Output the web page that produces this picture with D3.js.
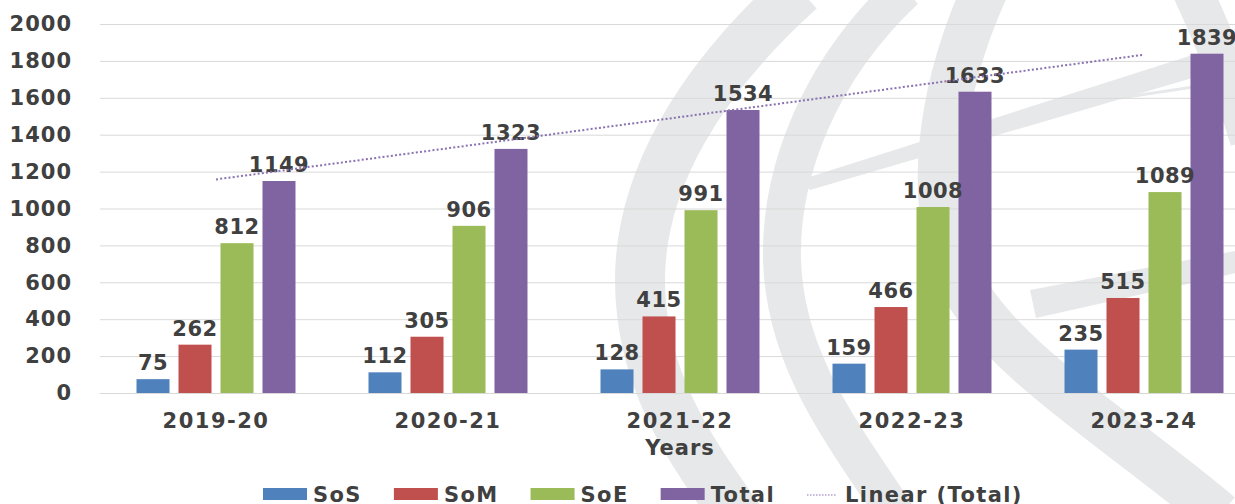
<!DOCTYPE html>
<html>
<head>
<meta charset="utf-8">
<script src="https://cdn.jsdelivr.net/npm/d3@7"></script>
<style>
  body { margin: 0; background: #fff; }
  svg { display: block; font-family: "DejaVu Sans", sans-serif; font-weight: bold; }
</style>
</head>
<body>
<svg id="chart"></svg>
<script>
const years = ["2019-20", "2020-21", "2021-22", "2022-23", "2023-24"];
const seriesNames = ["SoS", "SoM", "SoE", "Total"];
const sosValues = [75, 112, 128, 159, 235];
const somValues = [262, 305, 415, 466, 515];
const soeValues = [812, 906, 991, 1008, 1089];
const totalValues = [1149, 1323, 1534, 1633, 1839];
const yTicks = [0, 200, 400, 600, 800, 1000, 1200, 1400, 1600, 1800, 2000];
const seriesColors = ["#4F81BD", "#C0504D", "#9BBB59", "#8064A2"];

const width = 1235, height = 504;
const margin = { left: 100, right: -25, top: 24, bottom: 111 };
const textColor = "#404040";
const watermarkGrey = "#e7e8e9";
const trendColor = "#8a72b0";

const seriesValues = [sosValues, somValues, soeValues, totalValues];
const rows = years.map((y, i) => ({
    year: y,
    values: seriesNames.map((s, j) => ({ key: s, value: seriesValues[j][i], color: seriesColors[j] }))
}));

const svg = d3.select("#chart")
    .attr("width", width)
    .attr("height", height);

// faint logo watermark behind the plot
const wm = svg.append("g").attr("fill", "none").attr("stroke", watermarkGrey);
const watermarkStrokes = [
    { d: "M 800,-10 C 700,80 640,180 640,280 C 640,380 690,450 740,520", w: 50 },
    { d: "M 905,-10 C 820,70 780,170 782,260 C 785,360 840,430 900,520", w: 38 },
    { d: "M 985,-10 C 940,90 925,200 960,280 C 1000,360 1120,430 1220,515", w: 46 },
    { d: "M 1192,-10 C 1215,40 1235,90 1250,140", w: 40 },
    { d: "M 1120,98 L 1240,80", w: 3 }
];
watermarkStrokes.forEach(s => wm.append("path").attr("d", s.d).attr("stroke-width", s.w));
const watermarkWedges = [
    "M 800,180 L 1240,40 L 1240,64 L 810,190 Z",
    "M 1030,290 L 1240,250 L 1240,272 L 1036,318 Z"
];
watermarkWedges.forEach(d => wm.append("path").attr("d", d).attr("fill", watermarkGrey).attr("stroke", "none"));

const x0 = d3.scaleBand()
    .domain(years)
    .range([margin.left, width - margin.right]);

const x1 = d3.scaleBand()
    .domain(seriesNames)
    .range([0, 159])
    .paddingInner(0.214);

const groupOffset = (x0.bandwidth() - 159) / 2;

const y = d3.scaleLinear()
    .domain([0, 2000])
    .range([height - margin.bottom, margin.top]);

// gridlines
svg.append("g")
    .selectAll("line")
    .data(yTicks)
    .join("line")
    .attr("x1", margin.left)
    .attr("x2", width)
    .attr("y1", d => y(d) + 0.5)
    .attr("y2", d => y(d) + 0.5)
    .attr("stroke", "#d9d9d9")
    .attr("stroke-width", 1);

// y axis labels
const yAxis = svg.append("g")
    .attr("transform", `translate(72,0)`)
    .call(d3.axisLeft(y).tickValues(yTicks).tickFormat(d3.format("d")).tickSize(0).tickPadding(0));
yAxis.select(".domain").remove();
yAxis.selectAll("text")
    .attr("fill", textColor)
    .attr("font-size", 21)
    .attr("font-family", "DejaVu Sans, sans-serif")
    .attr("font-weight", "bold")
    .attr("letter-spacing", 1);

// bars
const groups = svg.append("g")
    .selectAll("g")
    .data(rows)
    .join("g")
    .attr("transform", d => `translate(${x0(d.year) + groupOffset},0)`);

groups.selectAll("rect")
    .data(d => d.values)
    .join("rect")
    .attr("x", d => x1(d.key))
    .attr("width", x1.bandwidth())
    .attr("y", d => y(d.value))
    .attr("height", d => y(0) - y(d.value))
    .attr("fill", d => d.color);

groups.selectAll("text")
    .data(d => d.values)
    .join("text")
    .attr("x", d => x1(d.key) + x1.bandwidth() / 2)
    .attr("y", d => y(d.value) - 9)
    .attr("text-anchor", "middle")
    .attr("font-size", 21)
    .attr("letter-spacing", 0.5)
    .attr("fill", textColor)
    .text(d => d.value);

// linear trend of Total (least squares over category index)
const n = totalValues.length;
const xs = d3.range(1, n + 1);
const mx = d3.mean(xs), my = d3.mean(totalValues);
const slope = d3.sum(xs, (v, i) => (v - mx) * (totalValues[i] - my)) / d3.sum(xs, v => (v - mx) ** 2);
const intercept = my - slope * mx;
const trend = [1, n].map(v => ({ cx: x0(years[v - 1]) + x0.bandwidth() / 2, val: intercept + slope * v }));

svg.append("path")
    .datum(trend)
    .attr("d", d3.line().x(d => d.cx).y(d => y(d.val)))
    .attr("fill", "none")
    .attr("stroke", trendColor)
    .attr("stroke-width", 2)
    .attr("stroke-dasharray", "2,2.2");

// x axis labels
svg.append("g")
    .selectAll("text")
    .data(years)
    .join("text")
    .attr("x", d => x0(d) + x0.bandwidth() / 2)
    .attr("y", 428)
    .attr("text-anchor", "middle")
    .attr("font-size", 21)
    .attr("letter-spacing", 1.5)
    .attr("fill", textColor)
    .text(d => d);

svg.append("text")
    .attr("x", (margin.left + width - margin.right) / 2)
    .attr("y", 455)
    .attr("text-anchor", "middle")
    .attr("font-size", 21)
    .attr("letter-spacing", 1)
    .attr("fill", textColor)
    .text("Years");

// legend
const legendItems = seriesNames.map((s, i) => ({ label: s, color: seriesColors[i], type: "rect" }))
    .concat([{ label: "Linear (Total)", color: trendColor, type: "line" }]);
const legend = svg.append("g");
let lx = 263;
legendItems.forEach(item => {
    if (item.type === "rect") {
        legend.append("rect")
            .attr("x", lx).attr("y", 488)
            .attr("width", 44).attr("height", 12)
            .attr("fill", item.color);
        lx += 50;
    } else {
        legend.append("line")
            .attr("x1", lx).attr("x2", lx + 30)
            .attr("y1", 495).attr("y2", 495)
            .attr("stroke", item.color)
            .attr("stroke-width", 1.2)
            .attr("stroke-dasharray", "1.5,1.5");
        lx += 38;
    }
    const t = legend.append("text")
        .attr("x", lx).attr("y", 502)
        .attr("font-size", 21)
        .attr("letter-spacing", 1.4)
        .attr("fill", textColor)
        .text(item.label);
    lx += t.node().getComputedTextLength() + 32;
});
</script>
</body>
</html>
